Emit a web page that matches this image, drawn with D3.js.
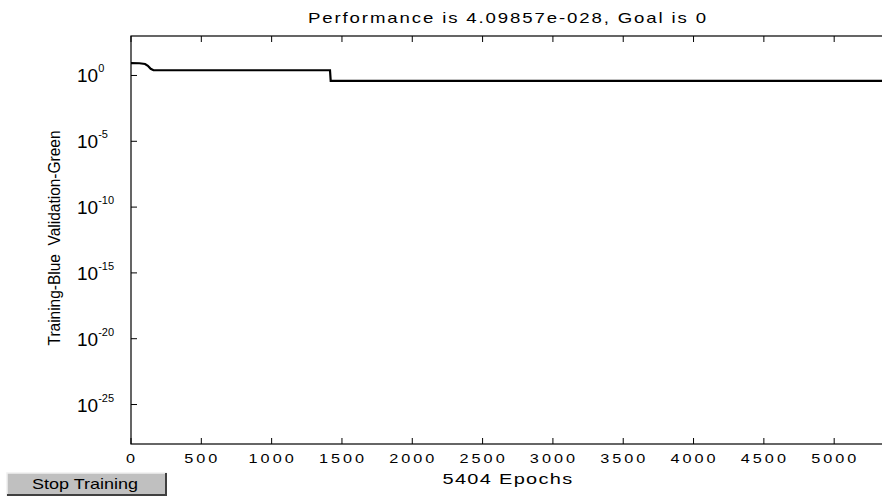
<!doctype html>
<html lang="en">
<head>
  <script src="https://d3js.org/d3.v7.min.js"></script>
  <style>
    body { margin: 0; background: #fff; }
    svg { display: block; }
    text { font-family: "Liberation Sans", Arial, sans-serif; fill: #000; }
  </style>
</head>
<body>
<div id="chart"></div>
<script>
  // training record
  var epochs = [0, 60, 100, 120, 140, 160, 1415, 1420, 5404];
  var perf   = [8.7, 8.5, 7.5, 5.5, 3.2, 2.5, 2.5, 0.39, 0.39];
  var xTicks = [0, 500, 1000, 1500, 2000, 2500, 3000, 3500, 4000, 4500, 5000];
  var yExps  = [0, -5, -10, -15, -20, -25];

  var W = 882, H = 496;
  var pL = 131, pR = 891, pT = 36, pB = 444;

  var svg = d3.select('#chart').append('svg')
      .attr('width', W).attr('height', H);

  var x = d3.scaleLinear().domain([0, 5404]).range([pL, pR]);
  var y = d3.scaleLog().domain([1e-28, 1e3]).range([pB, pT]);

  // box
  svg.append('rect')
      .attr('x', pL).attr('y', pT)
      .attr('width', pR - pL).attr('height', pB - pT)
      .attr('fill', 'none').attr('stroke', '#000').attr('stroke-width', 1.2);

  // x ticks, bottom and top, pointing in
  var xt = svg.append('g');
  xTicks.forEach(function(t) {
    xt.append('line').attr('x1', x(t)).attr('x2', x(t))
        .attr('y1', pB).attr('y2', pB - 6).attr('stroke', '#000');
    xt.append('line').attr('x1', x(t)).attr('x2', x(t))
        .attr('y1', pT).attr('y2', pT + 6).attr('stroke', '#000');
    xt.append('text')
        .attr('transform', 'translate(' + (x(t) + 1) + ',463) scale(1.25,1)')
        .attr('text-anchor', 'middle')
        .style('font-size', '13px')
        .style('letter-spacing', '2.4px')
        .text(String(t));
  });

  // y ticks and labels
  var yt = svg.append('g');
  yExps.forEach(function(e) {
    var v = Math.pow(10, e);
    yt.append('line').attr('x1', pL).attr('x2', pL + 6)
        .attr('y1', y(v)).attr('y2', y(v)).attr('stroke', '#000');
    var t = yt.append('text')
        .attr('x', 77).attr('y', y(v) + 7)
        .style('font-size', '19px');
    t.append('tspan').text('10');
    t.append('tspan').attr('dy', -10).style('font-size', '11px').text(String(e));
  });

  // performance line
  var line = d3.line()
      .x(function(d, i) { return x(epochs[i]); })
      .y(function(d) { return y(d); });

  svg.append('path')
      .datum(perf)
      .attr('d', line)
      .attr('fill', 'none')
      .attr('stroke', '#000')
      .attr('stroke-width', 2.2);

  // titles
  svg.append('text')
      .attr('x', 508).attr('y', 23)
      .attr('text-anchor', 'middle')
      .attr('textLength', 400).attr('lengthAdjust', 'spacingAndGlyphs')
      .style('font-size', '15px')
      .style('letter-spacing', '1.5px')
      .text('Performance is 4.09857e-028, Goal is 0');

  svg.append('text')
      .attr('x', 508).attr('y', 484)
      .attr('text-anchor', 'middle')
      .attr('textLength', 131).attr('lengthAdjust', 'spacingAndGlyphs')
      .style('font-size', '15px')
      .style('letter-spacing', '1px')
      .text('5404 Epochs');

  svg.append('text')
      .attr('transform', 'translate(60,238) rotate(-90)')
      .attr('text-anchor', 'middle')
      .attr('textLength', 215).attr('lengthAdjust', 'spacingAndGlyphs')
      .style('font-size', '16px')
      .text('Training-Blue\u00a0\u00a0Validation-Green');

  // stop training button
  var b = svg.append('g');
  b.append('rect').attr('x', 7).attr('y', 473).attr('width', 160).attr('height', 23)
      .attr('fill', '#c0c0c0');
  b.append('path').attr('d', 'M7,496 V473 H167').attr('fill', 'none').attr('stroke', '#f0f0f0').attr('stroke-width', 1.5);
  b.append('path').attr('d', 'M166,473 V495 H7').attr('fill', 'none').attr('stroke', '#404040').attr('stroke-width', 2);
  b.append('text').attr('x', 85).attr('y', 489)
      .attr('text-anchor', 'middle')
      .attr('textLength', 106).attr('lengthAdjust', 'spacingAndGlyphs')
      .style('font-size', '15px')
      .text('Stop Training');
</script>
</body>
</html>
